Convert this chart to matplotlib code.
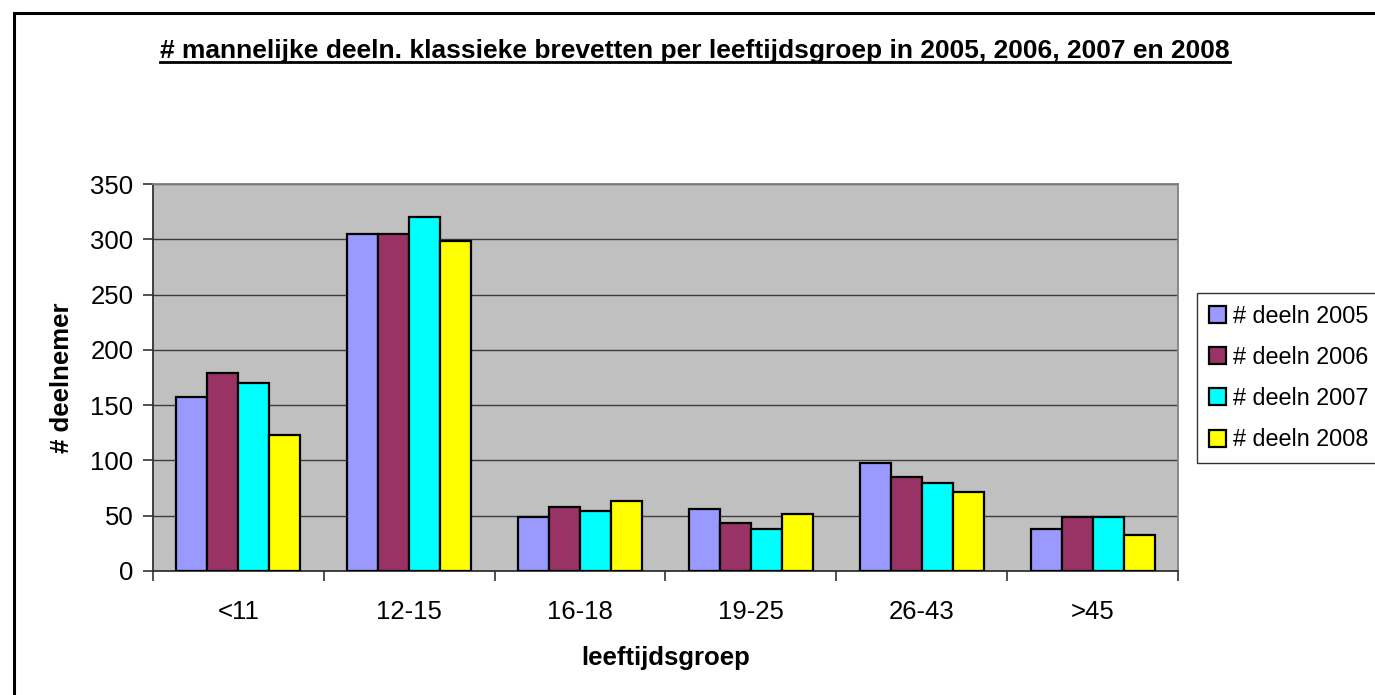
import numpy as np
import matplotlib.pyplot as plt
from matplotlib.patches import Rectangle

plt.rcParams['font.family'] = ['Liberation Sans', 'DejaVu Sans']

# Data
groepen = ["<11", "12-15", "16-18", "19-25", "26-43", ">45"]
jaren = ["# deeln 2005", "# deeln 2006", "# deeln 2007", "# deeln 2008"]
deeln_2005 = [157, 305, 49, 56, 98, 38]
deeln_2006 = [179, 305, 58, 43, 85, 49]
deeln_2007 = [170, 320, 54, 38, 80, 49]
deeln_2008 = [123, 298, 63, 52, 71, 33]
yticks = [0, 50, 100, 150, 200, 250, 300, 350]

series = [deeln_2005, deeln_2006, deeln_2007, deeln_2008]
kleuren = ["#9999FF", "#993366", "#00FFFF", "#FFFF00"]
fs = 18.5

fig = plt.figure(figsize=(13.75, 6.95), dpi=100)

# buitenkader van de grafiek
fig.patches.append(Rectangle((14 / 1375, -0.05), 1.2, 1 - 13 / 695 + 0.05,
                             transform=fig.transFigure, fill=False,
                             edgecolor="black", linewidth=2.2))

ax = fig.add_axes([153 / 1375, 1 - 571 / 695, (1178 - 153) / 1375, (571 - 184) / 695])
ax.set_facecolor("#C0C0C0")

x = np.arange(len(groepen))
bw = 0.1815
for i, (vals, kl) in enumerate(zip(series, kleuren)):
    ax.bar(x + (i - 1.5) * bw, vals, width=bw, color=kl, edgecolor="black",
           linewidth=1.6, label=jaren[i], zorder=3)

ax.set_xlim(-0.5, len(groepen) - 0.5)
ax.set_ylim(0, 350)
ax.set_yticks(yticks)
ax.yaxis.grid(True, color="#3c3c3c", linewidth=1.0, zorder=1)

ax.set_xticks(x)
ax.set_xticklabels(groepen, fontsize=fs)
ax.tick_params(axis="x", length=0, pad=21)
ax.set_xticks(np.arange(-0.5, len(groepen)), minor=True)
ax.tick_params(axis="x", which="minor", length=7, width=1.2, color="#333333")
ax.tick_params(axis="y", labelsize=fs, length=7, width=1.2, color="#333333", pad=7)

for s in ["left", "bottom"]:
    ax.spines[s].set_color("#333333")
    ax.spines[s].set_linewidth(1.3)
for s in ["top", "right"]:
    ax.spines[s].set_color("#808080")
    ax.spines[s].set_linewidth(1.3)

ax.set_ylabel("# deelnemer", fontsize=fs, fontweight="bold", labelpad=12)
ax.set_xlabel("leeftijdsgroep", fontsize=fs, fontweight="bold", labelpad=16)

t = fig.text(695 / 1375, 1 - 51 / 695,
             "# mannelijke deeln. klassieke brevetten per leeftijdsgroep in 2005, 2006, 2007 en 2008",
             ha="center", va="center", fontsize=19, fontweight="bold")

leg = fig.legend(loc="upper left", bbox_to_anchor=(1197 / 1375, 1 - 293 / 695),
                 fontsize=16.8, frameon=True, fancybox=False, edgecolor="black",
                 handlelength=0.75, handleheight=0.75, handletextpad=0.3,
                 labelspacing=0.78, borderpad=0.5, borderaxespad=0)
leg.get_frame().set_linewidth(1.0)

fig.canvas.draw()
# titel onderstrepen
bb = t.get_window_extent().transformed(fig.transFigure.inverted())
fig.add_artist(plt.Line2D([bb.x0, bb.x1], [bb.y0 + 0.001, bb.y0 + 0.001],
                          transform=fig.transFigure, color="black", linewidth=2))

fig.savefig("out.png", dpi=100)
